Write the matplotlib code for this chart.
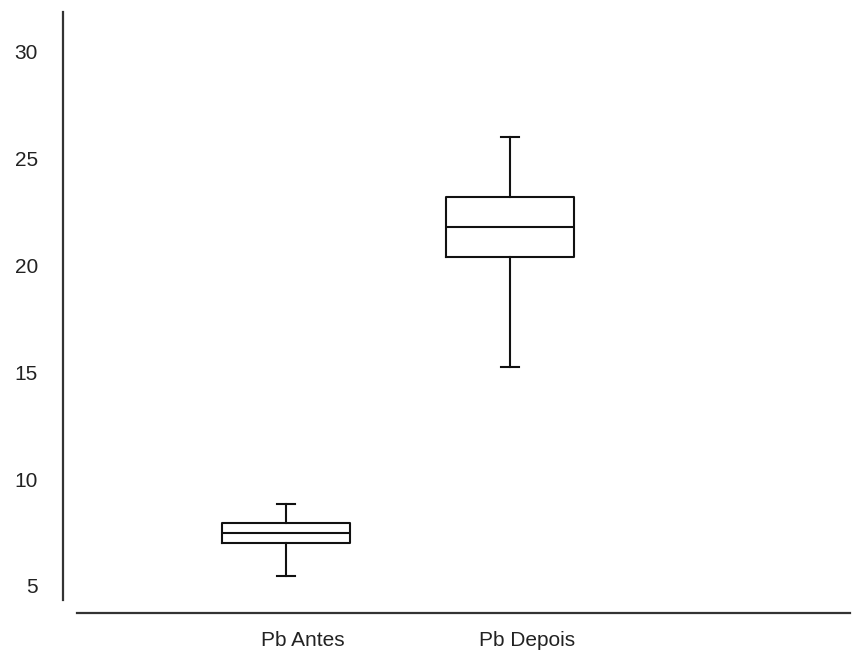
import numpy as np
import matplotlib
matplotlib.use("Agg")
import matplotlib.pyplot as plt
from matplotlib.transforms import ScaledTranslation

# values
labels = ["Pb Antes", "Pb Depois"]
whislo = [5.47, 15.25]
q1 = [7.01, 20.40]
med = [7.48, 21.81]
q3 = [7.95, 23.21]
whishi = [8.84, 26.02]
yticks = [5, 10, 15, 20, 25, 30]

plt.rcParams["font.family"] = ["Liberation Sans", "DejaVu Sans"]

W, H = 855, 655
fig = plt.figure(figsize=(W / 100, H / 100), dpi=100)
ax = fig.add_axes([77 / W, 1 - 600 / H, (850 - 77) / W, (600 - 12) / H])

stats = []
for i in range(len(labels)):
    stats.append({"label": labels[i], "whislo": whislo[i], "q1": q1[i],
                  "med": med[i], "q3": q3[i], "whishi": whishi[i], "fliers": []})

lw = 1.5
col = "#111111"
ax.bxp(stats, positions=[1, 2], widths=0.571, capwidths=0.08, showfliers=False,
       boxprops=dict(color=col, linewidth=lw),
       medianprops=dict(color=col, linewidth=lw),
       whiskerprops=dict(color=col, linewidth=lw),
       capprops=dict(color=col, linewidth=lw))

ax.set_xlim(0.067, 3.518)
ax.set_ylim(4.34, 31.87)
ax.set_yticks(yticks)
ax.set_yticklabels([str(t) for t in yticks])

for s in ["top", "right"]:
    ax.spines[s].set_visible(False)
# spines are pulled away from the plot area (offsets in points)
ax.spines["left"].set_position(("outward", 10))
ax.spines["bottom"].set_position(("outward", 9))
for s in ["left", "bottom"]:
    ax.spines[s].set_linewidth(1.6)
    ax.spines[s].set_color("#333333")

ax.tick_params(axis="both", length=0, labelsize=15, colors="#222222")
ax.tick_params(axis="y", pad=18)
ax.tick_params(axis="x", pad=13)

# category labels sit a little to the right of the boxes in the reference
off = ScaledTranslation(17 / 100, 0, fig.dpi_scale_trans)
for t in ax.get_xticklabels():
    t.set_transform(t.get_transform() + off)

fig.savefig("out.png", dpi=100)
